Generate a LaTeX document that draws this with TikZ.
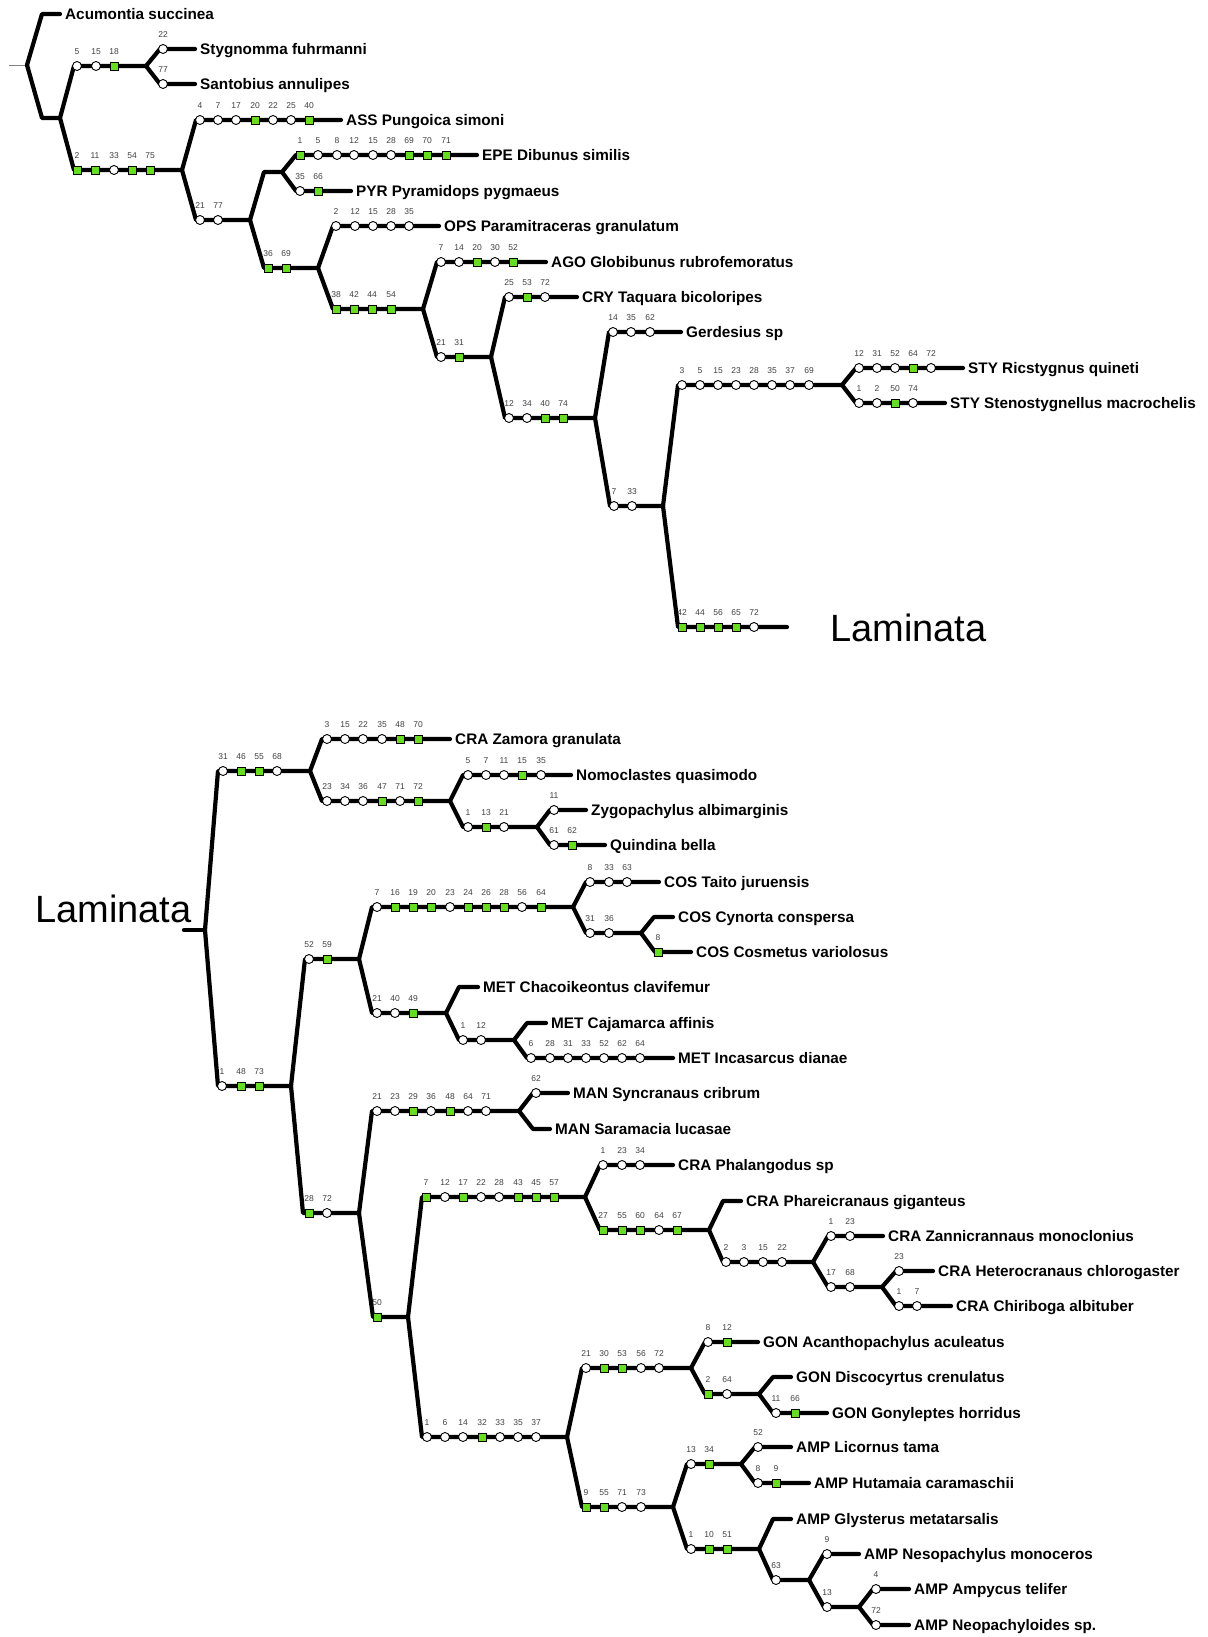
\documentclass[tikz,border=0pt]{standalone}
\usepackage{fontspec}
\setmainfont{Liberation Sans}
\definecolor{mkgreen}{HTML}{66DD22}
\tikzset{
 br/.style={line width=4.2pt, line cap=round, line join=round},
 leaf/.style={br, shorten >=5pt},
 stub/.style={line width=0.8pt, draw=gray},
 sp/.style={anchor=west, inner sep=0pt, font=\fontsize{15.3}{18}\selectfont\bfseries, text height=11pt, text depth=0pt},
 big/.style={anchor=base west, inner sep=0pt, font=\fontsize{38}{44}\selectfont},
 wmk/.style={circle, draw, fill=white, line width=0.9pt, minimum size=9pt, inner sep=0pt},
 gmk/.style={rectangle, draw, fill=mkgreen, line width=0.9pt, minimum size=8pt, inner sep=0pt},
 mlab/.style={inner sep=0pt, text=black!75, font=\fontsize{8.5}{9}\selectfont},
}
\newcommand{\mkrow}[3]{\foreach \mkx/\mkl/\mks [count=\mkn] in {#3}{\node[\mks] (#1m\mkn) at (\mkx,#2) {}; \node[mlab] (#1t\mkn) at (\mkx,#2-14) {\mkl};}}
\begin{document}
\begin{tikzpicture}[x=1pt,y=-1pt]
\useasboundingbox (0,0) rectangle (1207,1637);
% ---------------- top tree: coordinates and labels
\coordinate (R0) at (9,65); \coordinate (R) at (27,65);
\coordinate (cA) at (42,14); \node[sp] (LA) at (65,14) {Acumontia succinea};
\coordinate (c2) at (42,118); \coordinate (N2) at (60,118);
\coordinate (c3) at (74,66); \coordinate (N3) at (146,66);
\coordinate (c4) at (160,49); \node[sp] (L4) at (200,49) {Stygnomma fuhrmanni};
\coordinate (c5) at (160,84); \node[sp] (L5) at (200,84) {Santobius annulipes};
\coordinate (c6) at (74,170); \coordinate (N4) at (182,170);
\coordinate (c7) at (196,120); \node[sp] (L7) at (346,120) {ASS Pungoica simoni};
\coordinate (c8) at (196,220); \coordinate (N5) at (250,220);
\coordinate (c9) at (264,172); \coordinate (N6) at (282,172);
\coordinate (c10) at (296,155); \node[sp] (L10) at (482,155) {EPE Dibunus similis};
\coordinate (c11) at (296,191); \node[sp] (L11) at (356,191) {PYR Pyramidops pygmaeus};
\coordinate (c12) at (264,268); \coordinate (N7) at (318,268);
\coordinate (c13) at (333,226); \node[sp] (L13) at (444,226) {OPS Paramitraceras granulatum};
\coordinate (c14) at (333,309); \coordinate (N8) at (423,309);
\coordinate (c15) at (437,262); \node[sp] (L15) at (551,262) {AGO Globibunus rubrofemoratus};
\coordinate (c16) at (437,357); \coordinate (N9) at (491,357);
\coordinate (c17) at (505,297); \node[sp] (L17) at (582,297) {CRY Taquara bicoloripes};
\coordinate (c18) at (505,418); \coordinate (N10) at (595,418);
\coordinate (c19) at (609,332); \node[sp] (L19) at (686,332) {Gerdesius sp};
\coordinate (c20) at (610,506); \coordinate (N11) at (663,506);
\coordinate (c21) at (678,385); \coordinate (N12) at (842,385);
\coordinate (c22) at (856,368); \node[sp] (L22) at (968,368) {STY Ricstygnus quineti};
\coordinate (c23) at (856,403); \node[sp] (L23) at (950,403) {STY Stenostygnellus macrochelis};
\coordinate (c24) at (678,627); \coordinate (E24) at (787,627);
\node[big] (Lam1) at (830,641) {Laminata};
% ---------------- bottom tree: coordinates and labels
\coordinate (B0) at (184,930); \coordinate (B) at (205,930);
\node[big] (Lam2) at (35,922) {Laminata};
\coordinate (d1) at (218,771); \coordinate (M1) at (310,771);
\coordinate (d2) at (322,739); \node[sp] (K2) at (455,739) {CRA Zamora granulata};
\coordinate (d3) at (322,801); \coordinate (M2) at (450,801);
\coordinate (d4) at (463,775); \node[sp] (K4) at (576,775) {Nomoclastes quasimodo};
\coordinate (d5) at (463,827); \coordinate (M3) at (537,827);
\coordinate (d6) at (550,810); \node[sp] (K6) at (591,810) {Zygopachylus albimarginis};
\coordinate (d7) at (550,845); \node[sp] (K7) at (610,845) {Quindina bella};
\coordinate (d8) at (218,1086); \coordinate (M4) at (291,1086);
\coordinate (d9) at (305,959); \coordinate (M5) at (359,959);
\coordinate (d10) at (372,907); \coordinate (M6) at (573,907);
\coordinate (d11) at (586,882); \node[sp] (K11) at (664,882) {COS Taito juruensis};
\coordinate (d12) at (586,933); \coordinate (M7) at (641,933);
\coordinate (d13) at (654,917); \node[sp] (K13) at (678,917) {COS Cynorta conspersa};
\coordinate (d14) at (655,952); \node[sp] (K14) at (696,952) {COS Cosmetus variolosus};
\coordinate (d15) at (372,1013); \coordinate (M8) at (446,1013);
\coordinate (d16) at (459,987); \node[sp] (K16) at (483,987) {MET Chacoikeontus clavifemur};
\coordinate (d17) at (459,1040); \coordinate (M9) at (514,1040);
\coordinate (d18) at (527,1023); \node[sp] (K18) at (551,1023) {MET Cajamarca affinis};
\coordinate (d19) at (527,1058); \node[sp] (K19) at (678,1058) {MET Incasarcus dianae};
\coordinate (d20) at (303,1213); \coordinate (M10) at (359,1213);
\coordinate (d21) at (372,1111); \coordinate (M11) at (519,1111);
\coordinate (d22) at (533,1093); \node[sp] (K22) at (573,1093) {MAN Syncranaus cribrum};
\coordinate (d23) at (533,1129); \node[sp] (K23) at (555,1129) {MAN Saramacia lucasae};
\coordinate (d24) at (373,1317); \coordinate (M12) at (408,1317);
\coordinate (d25) at (422,1197); \coordinate (M13) at (585,1197);
\coordinate (d26) at (600,1165); \node[sp] (K26) at (678,1165) {CRA Phalangodus sp};
\coordinate (d27) at (600,1230); \coordinate (M14) at (709,1230);
\coordinate (d28) at (723,1201); \node[sp] (K28) at (746,1201) {CRA Phareicranaus giganteus};
\coordinate (d29) at (723,1262); \coordinate (M15) at (813,1262);
\coordinate (d30) at (828,1236); \node[sp] (K30) at (888,1236) {CRA Zannicrannaus monoclonius};
\coordinate (d31) at (828,1287); \coordinate (M16) at (882,1287);
\coordinate (d32) at (896,1271); \node[sp] (K32) at (938,1271) {CRA Heterocranaus chlorogaster};
\coordinate (d33) at (896,1306); \node[sp] (K33) at (956,1306) {CRA Chiriboga albituber};
\coordinate (d34) at (422,1437); \coordinate (M17) at (567,1437);
\coordinate (d35) at (582,1368); \coordinate (M18) at (691,1368);
\coordinate (d36) at (705,1342); \node[sp] (K36) at (763,1342) {GON Acanthopachylus aculeatus};
\coordinate (d37) at (705,1394); \coordinate (M19) at (759,1394);
\coordinate (d38) at (773,1377); \node[sp] (K38) at (796,1377) {GON Discocyrtus crenulatus};
\coordinate (d39) at (773,1413); \node[sp] (K39) at (832,1413) {GON Gonyleptes horridus};
\coordinate (d40) at (582,1507); \coordinate (M20) at (673,1507);
\coordinate (d41) at (687,1464); \coordinate (M21) at (741,1464);
\coordinate (d42) at (755,1447); \node[sp] (K42) at (796,1447) {AMP Licornus tama};
\coordinate (d43) at (755,1483); \node[sp] (K43) at (814,1483) {AMP Hutamaia caramaschii};
\coordinate (d44) at (687,1549); \coordinate (M22) at (759,1549);
\coordinate (d45) at (773,1519); \node[sp] (K45) at (796,1519) {AMP Glysterus metatarsalis};
\coordinate (d46) at (773,1580); \coordinate (M23) at (809,1580);
\coordinate (d47) at (824,1554); \node[sp] (K47) at (864,1554) {AMP Nesopachylus monoceros};
\coordinate (d48) at (824,1607); \coordinate (M24) at (859,1607);
\coordinate (d49) at (873,1589); \node[sp] (K49) at (914,1589) {AMP Ampycus telifer};
\coordinate (d50) at (873,1625); \node[sp] (K50) at (914,1625) {AMP Neopachyloides sp.};
% ---------------- branches (top)
\draw[stub] (R0) -- (R);
\draw[leaf] (R) -- (cA) -- (LA);
\draw[br] (R) -- (c2) -- (N2);
\draw[br] (N2) -- (c3) -- (N3);
\draw[leaf] (N3) -- (c4) -- (L4);
\draw[leaf] (N3) -- (c5) -- (L5);
\draw[br] (N2) -- (c6) -- (N4);
\draw[leaf] (N4) -- (c7) -- (L7);
\draw[br] (N4) -- (c8) -- (N5);
\draw[br] (N5) -- (c9) -- (N6);
\draw[leaf] (N6) -- (c10) -- (L10);
\draw[leaf] (N6) -- (c11) -- (L11);
\draw[br] (N5) -- (c12) -- (N7);
\draw[leaf] (N7) -- (c13) -- (L13);
\draw[br] (N7) -- (c14) -- (N8);
\draw[leaf] (N8) -- (c15) -- (L15);
\draw[br] (N8) -- (c16) -- (N9);
\draw[leaf] (N9) -- (c17) -- (L17);
\draw[br] (N9) -- (c18) -- (N10);
\draw[leaf] (N10) -- (c19) -- (L19);
\draw[br] (N10) -- (c20) -- (N11);
\draw[br] (N11) -- (c21) -- (N12);
\draw[leaf] (N12) -- (c22) -- (L22);
\draw[leaf] (N12) -- (c23) -- (L23);
\draw[br] (N11) -- (c24) -- (E24);
% ---------------- branches (bottom)
\draw[br] (B0) -- (B);
\draw[br] (B) -- (d1) -- (M1);
\draw[leaf] (M1) -- (d2) -- (K2);
\draw[br] (M1) -- (d3) -- (M2);
\draw[leaf] (M2) -- (d4) -- (K4);
\draw[br] (M2) -- (d5) -- (M3);
\draw[leaf] (M3) -- (d6) -- (K6);
\draw[leaf] (M3) -- (d7) -- (K7);
\draw[br] (B) -- (d8) -- (M4);
\draw[br] (M4) -- (d9) -- (M5);
\draw[br] (M5) -- (d10) -- (M6);
\draw[leaf] (M6) -- (d11) -- (K11);
\draw[br] (M6) -- (d12) -- (M7);
\draw[leaf] (M7) -- (d13) -- (K13);
\draw[leaf] (M7) -- (d14) -- (K14);
\draw[br] (M5) -- (d15) -- (M8);
\draw[leaf] (M8) -- (d16) -- (K16);
\draw[br] (M8) -- (d17) -- (M9);
\draw[leaf] (M9) -- (d18) -- (K18);
\draw[leaf] (M9) -- (d19) -- (K19);
\draw[br] (M4) -- (d20) -- (M10);
\draw[br] (M10) -- (d21) -- (M11);
\draw[leaf] (M11) -- (d22) -- (K22);
\draw[leaf] (M11) -- (d23) -- (K23);
\draw[br] (M10) -- (d24) -- (M12);
\draw[br] (M12) -- (d25) -- (M13);
\draw[leaf] (M13) -- (d26) -- (K26);
\draw[br] (M13) -- (d27) -- (M14);
\draw[leaf] (M14) -- (d28) -- (K28);
\draw[br] (M14) -- (d29) -- (M15);
\draw[leaf] (M15) -- (d30) -- (K30);
\draw[br] (M15) -- (d31) -- (M16);
\draw[leaf] (M16) -- (d32) -- (K32);
\draw[leaf] (M16) -- (d33) -- (K33);
\draw[br] (M12) -- (d34) -- (M17);
\draw[br] (M17) -- (d35) -- (M18);
\draw[leaf] (M18) -- (d36) -- (K36);
\draw[br] (M18) -- (d37) -- (M19);
\draw[leaf] (M19) -- (d38) -- (K38);
\draw[leaf] (M19) -- (d39) -- (K39);
\draw[br] (M17) -- (d40) -- (M20);
\draw[br] (M20) -- (d41) -- (M21);
\draw[leaf] (M21) -- (d42) -- (K42);
\draw[leaf] (M21) -- (d43) -- (K43);
\draw[br] (M20) -- (d44) -- (M22);
\draw[leaf] (M22) -- (d45) -- (K45);
\draw[br] (M22) -- (d46) -- (M23);
\draw[leaf] (M23) -- (d47) -- (K47);
\draw[br] (M23) -- (d48) -- (M24);
\draw[leaf] (M24) -- (d49) -- (K49);
\draw[leaf] (M24) -- (d50) -- (K50);
% ---------------- character markers (top)
\mkrow{a3}{66}{77/5/wmk,96/15/wmk,114/18/gmk}
\mkrow{a4}{49}{163/22/wmk}
\mkrow{a5}{84}{163/77/wmk}
\mkrow{a6}{170}{77/2/gmk,95/11/gmk,114/33/wmk,132/54/gmk,150/75/gmk}
\mkrow{a7}{120}{200/4/wmk,218/7/wmk,236/17/wmk,255/20/gmk,273/22/wmk,291/25/wmk,309/40/gmk}
\mkrow{a8}{220}{200/21/wmk,218/77/wmk}
\mkrow{a10}{155}{300/1/gmk,318/5/wmk,337/8/wmk,354/12/wmk,373/15/wmk,391/28/wmk,409/69/gmk,427/70/gmk,446/71/gmk}
\mkrow{a11}{191}{300/35/wmk,318/66/gmk}
\mkrow{a12}{268}{268/36/gmk,286/69/gmk}
\mkrow{a13}{226}{336/2/wmk,355/12/wmk,373/15/wmk,391/28/wmk,409/35/wmk}
\mkrow{a14}{309}{336/38/gmk,354/42/gmk,372/44/gmk,391/54/gmk}
\mkrow{a15}{262}{441/7/wmk,459/14/wmk,477/20/gmk,495/30/wmk,513/52/gmk}
\mkrow{a16}{357}{441/21/wmk,459/31/gmk}
\mkrow{a17}{297}{509/25/wmk,527/53/gmk,545/72/wmk}
\mkrow{a18}{418}{509/12/wmk,527/34/wmk,545/40/gmk,563/74/gmk}
\mkrow{a19}{332}{613/14/wmk,631/35/wmk,650/62/wmk}
\mkrow{a20}{506}{614/7/wmk,632/33/wmk}
\mkrow{a21}{385}{682/3/wmk,700/5/wmk,718/15/wmk,736/23/wmk,754/28/wmk,772/35/wmk,790/37/wmk,809/69/wmk}
\mkrow{a22}{368}{859/12/wmk,877/31/wmk,895/52/wmk,913/64/gmk,931/72/wmk}
\mkrow{a23}{403}{859/1/wmk,877/2/wmk,895/50/gmk,913/74/wmk}
\mkrow{a24}{627}{682/42/gmk,700/44/gmk,718/56/gmk,736/65/gmk,754/72/wmk}
% ---------------- character markers (bottom)
\mkrow{b1}{771}{223/31/wmk,241/46/gmk,259/55/gmk,277/68/wmk}
\mkrow{b2}{739}{327/3/wmk,345/15/wmk,363/22/wmk,382/35/wmk,400/48/gmk,418/70/gmk}
\mkrow{b3}{801}{327/23/wmk,345/34/wmk,363/36/wmk,382/47/gmk,400/71/wmk,418/72/gmk}
\mkrow{b4}{775}{468/5/wmk,486/7/wmk,504/11/wmk,522/15/gmk,541/35/wmk}
\mkrow{b5}{827}{468/1/wmk,486/13/gmk,504/21/wmk}
\mkrow{b6}{810}{554/11/wmk}
\mkrow{b7}{845}{554/61/wmk,572/62/gmk}
\mkrow{b8}{1086}{222/1/wmk,241/48/gmk,259/73/gmk}
\mkrow{b9}{959}{309/52/wmk,327/59/gmk}
\mkrow{b10}{907}{377/7/wmk,395/16/gmk,413/19/gmk,431/20/gmk,450/23/wmk,468/24/gmk,486/26/gmk,504/28/gmk,522/56/wmk,541/64/gmk}
\mkrow{b11}{882}{590/8/wmk,609/33/wmk,627/63/wmk}
\mkrow{b12}{933}{590/31/wmk,609/36/wmk}
\mkrow{b14}{952}{658/8/gmk}
\mkrow{b15}{1013}{377/21/wmk,395/40/wmk,413/49/gmk}
\mkrow{b17}{1040}{463/1/wmk,481/12/wmk}
\mkrow{b19}{1058}{531/6/wmk,550/28/wmk,568/31/wmk,586/33/wmk,604/52/wmk,622/62/wmk,640/64/wmk}
\mkrow{b20}{1213}{309/28/gmk,327/72/wmk}
\mkrow{b21}{1111}{377/21/wmk,395/23/wmk,413/29/gmk,431/36/wmk,450/48/gmk,468/64/wmk,486/71/wmk}
\mkrow{b22}{1093}{536/62/wmk}
\mkrow{b24}{1317}{377/50/gmk}
\mkrow{b25}{1197}{426/7/gmk,445/12/wmk,463/17/gmk,481/22/wmk,499/28/wmk,518/43/gmk,536/45/gmk,554/57/gmk}
\mkrow{b26}{1165}{603/1/wmk,622/23/wmk,640/34/wmk}
\mkrow{b27}{1230}{603/27/gmk,622/55/gmk,640/60/gmk,659/64/wmk,677/67/gmk}
\mkrow{b29}{1262}{726/2/wmk,744/3/wmk,763/15/wmk,782/22/wmk}
\mkrow{b30}{1236}{831/1/wmk,850/23/wmk}
\mkrow{b31}{1287}{831/17/wmk,850/68/wmk}
\mkrow{b32}{1271}{899/23/wmk}
\mkrow{b33}{1306}{899/1/wmk,917/7/wmk}
\mkrow{b34}{1437}{427/1/wmk,445/6/wmk,463/14/wmk,482/32/gmk,500/33/wmk,518/35/wmk,536/37/wmk}
\mkrow{b35}{1368}{586/21/wmk,604/30/gmk,622/53/gmk,641/56/wmk,659/72/wmk}
\mkrow{b36}{1342}{708/8/wmk,727/12/gmk}
\mkrow{b37}{1394}{708/2/gmk,727/64/wmk}
\mkrow{b39}{1413}{776/11/wmk,795/66/gmk}
\mkrow{b40}{1507}{586/9/gmk,604/55/gmk,622/71/wmk,641/73/wmk}
\mkrow{b41}{1464}{691/13/wmk,709/34/gmk}
\mkrow{b42}{1447}{758/52/wmk}
\mkrow{b43}{1483}{758/8/wmk,776/9/gmk}
\mkrow{b44}{1549}{691/1/wmk,709/10/gmk,727/51/gmk}
\mkrow{b46}{1580}{776/63/wmk}
\mkrow{b47}{1554}{827/9/wmk}
\mkrow{b48}{1607}{827/13/wmk}
\mkrow{b49}{1589}{876/4/wmk}
\mkrow{b50}{1625}{876/72/wmk}
\end{tikzpicture}
\end{document}
